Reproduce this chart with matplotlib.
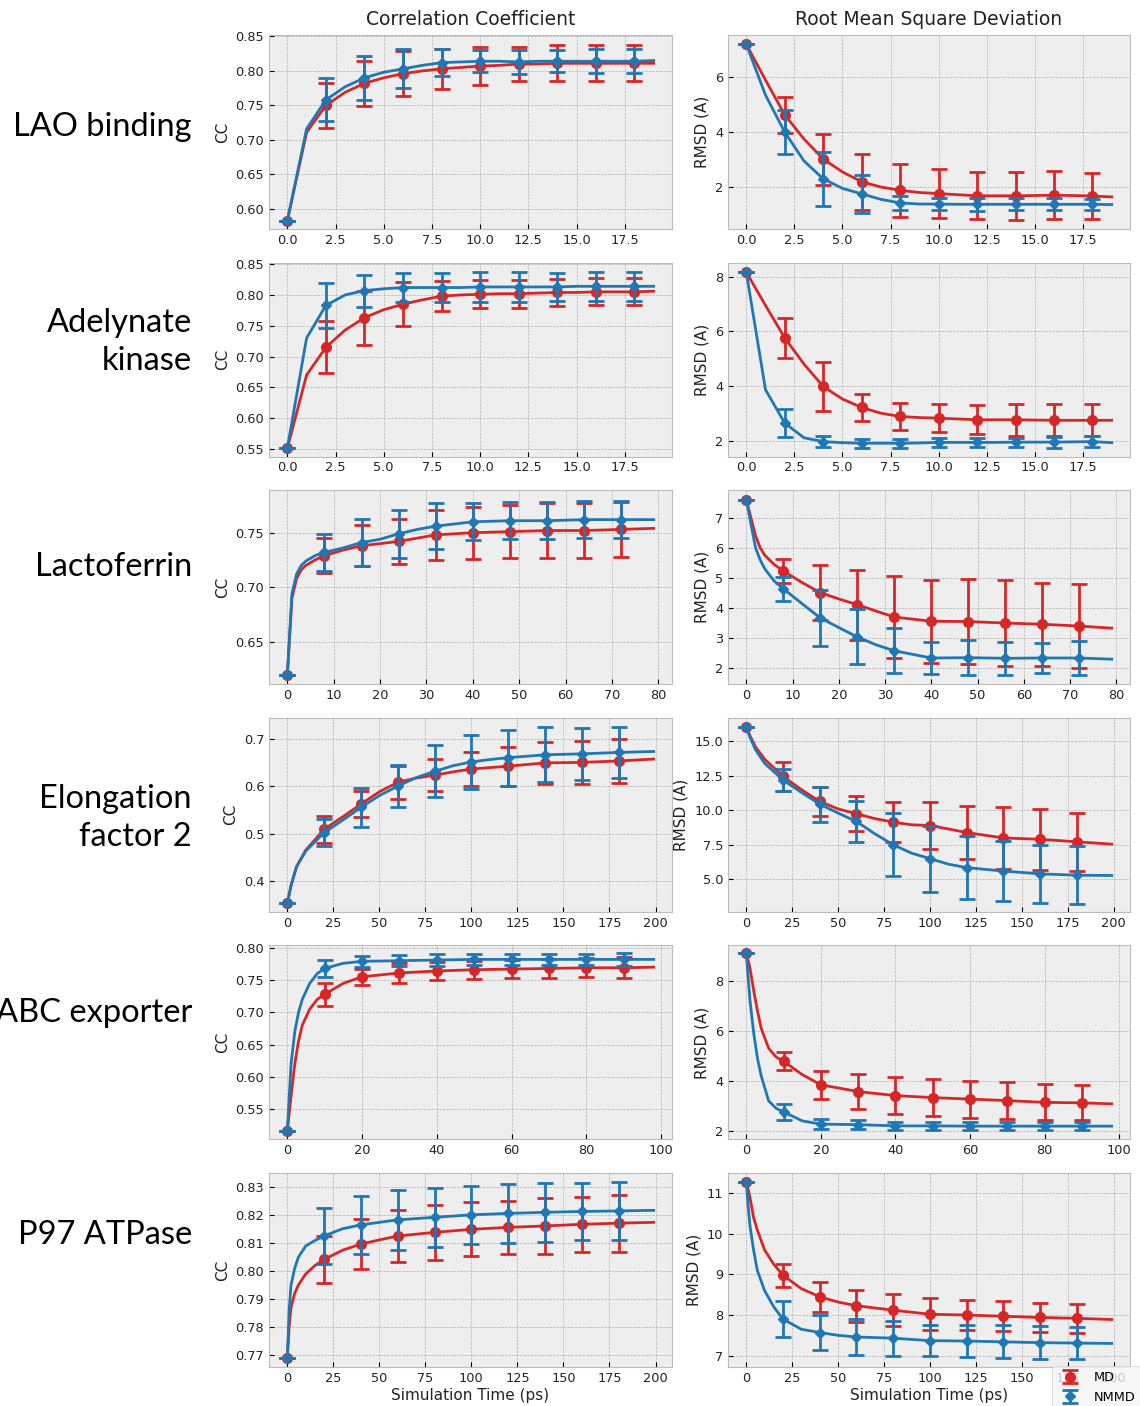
import matplotlib
matplotlib.use("Agg")
import matplotlib.pyplot as plt
from matplotlib.ticker import MultipleLocator

plt.style.use("bmh")

# ---------------- data ----------------
row_labels = ["LAO binding", "Adelynate\nkinase", "Lactoferrin",
              "Elongation\nfactor 2", "ABC exporter", "P97 ATPase"]
col_titles = ["Correlation Coefficient", "Root Mean Square Deviation"]
series_names = ["MD", "NMMD"]

# LAO binding
lao_t = [0, 1, 2, 3, 4, 5, 6, 7, 8, 9, 10, 11, 12, 13, 14, 15, 16, 17, 18, 19]
lao_tm = [0, 2, 4, 6, 8, 10, 12, 14, 16, 18]
lao_cc_md = [0.583, 0.711, 0.750, 0.769, 0.782, 0.790, 0.796, 0.800, 0.803, 0.805,
             0.807, 0.808, 0.810, 0.810, 0.811, 0.811, 0.811, 0.811, 0.811, 0.811]
lao_cc_nm = [0.583, 0.716, 0.758, 0.777, 0.790, 0.798, 0.803, 0.808, 0.812, 0.813,
             0.814, 0.814, 0.813, 0.814, 0.814, 0.814, 0.814, 0.814, 0.814, 0.815]
lao_cc_md_err = [0, 0.032, 0.033, 0.033, 0.029, 0.027, 0.025, 0.026, 0.026, 0.026]
lao_cc_nm_err = [0, 0.031, 0.032, 0.028, 0.019, 0.016, 0.017, 0.016, 0.017, 0.017]
lao_rmsd_md = [7.20, 5.90, 4.63, 3.75, 3.02, 2.55, 2.19, 2.00, 1.88, 1.80,
               1.76, 1.72, 1.68, 1.68, 1.68, 1.69, 1.70, 1.69, 1.67, 1.64]
lao_rmsd_nm = [7.20, 5.35, 4.00, 2.95, 2.30, 1.95, 1.75, 1.55, 1.42, 1.38,
               1.38, 1.37, 1.37, 1.37, 1.37, 1.37, 1.37, 1.37, 1.37, 1.36]
lao_rmsd_md_err = [0, 0.66, 0.93, 1.01, 0.97, 0.88, 0.85, 0.88, 0.88, 0.84]
lao_rmsd_nm_err = [0, 0.79, 0.98, 0.68, 0.25, 0.21, 0.23, 0.22, 0.22, 0.20]

# Adenylate kinase
ak_t = [0, 1, 2, 3, 4, 5, 6, 7, 8, 9, 10, 11, 12, 13, 14, 15, 16, 17, 18, 19]
ak_tm = [0, 2, 4, 6, 8, 10, 12, 14, 16, 18]
ak_cc_md = [0.551, 0.670, 0.715, 0.743, 0.763, 0.776, 0.785, 0.792, 0.798, 0.800,
            0.801, 0.802, 0.802, 0.803, 0.804, 0.804, 0.805, 0.805, 0.805, 0.806]
ak_cc_nm = [0.551, 0.730, 0.783, 0.800, 0.807, 0.810, 0.812, 0.812, 0.812, 0.812,
            0.813, 0.813, 0.813, 0.813, 0.813, 0.814, 0.814, 0.814, 0.814, 0.814]
ak_cc_md_err = [0, 0.042, 0.044, 0.036, 0.024, 0.023, 0.023, 0.022, 0.022, 0.022]
ak_cc_nm_err = [0, 0.037, 0.026, 0.024, 0.024, 0.024, 0.024, 0.023, 0.024, 0.024]
ak_rmsd_md = [8.17, 6.95, 5.76, 4.80, 3.98, 3.52, 3.21, 3.00, 2.88, 2.84,
              2.82, 2.79, 2.76, 2.76, 2.76, 2.75, 2.74, 2.74, 2.74, 2.74]
ak_rmsd_nm = [8.17, 3.86, 2.64, 2.10, 1.96, 1.92, 1.90, 1.90, 1.90, 1.91,
              1.93, 1.93, 1.93, 1.93, 1.94, 1.94, 1.94, 1.95, 1.96, 1.92]
ak_rmsd_md_err = [0, 0.74, 0.90, 0.49, 0.48, 0.50, 0.53, 0.58, 0.58, 0.58]
ak_rmsd_nm_err = [0, 0.50, 0.20, 0.17, 0.17, 0.18, 0.18, 0.17, 0.20, 0.20]

# Lactoferrin
lf_t = [0, 1, 2, 3, 4, 6, 8, 12, 16, 20, 24, 28, 32, 40, 48, 56, 64, 72, 79]
lf_tm = [0, 8, 16, 24, 32, 40, 48, 56, 64, 72]
lf_cc_md = [0.619, 0.690, 0.708, 0.716, 0.720, 0.725, 0.729, 0.734, 0.738, 0.740,
            0.742, 0.745, 0.748, 0.750, 0.751, 0.752, 0.752, 0.753, 0.754]
lf_cc_nm = [0.619, 0.694, 0.712, 0.720, 0.724, 0.729, 0.732, 0.736, 0.741, 0.744,
            0.749, 0.753, 0.756, 0.760, 0.761, 0.761, 0.762, 0.762, 0.762]
lf_cc_md_err = [0, 0.016, 0.019, 0.021, 0.023, 0.024, 0.024, 0.025, 0.025, 0.025]
lf_cc_nm_err = [0, 0.017, 0.022, 0.022, 0.021, 0.017, 0.017, 0.017, 0.017, 0.017]
lf_rmsd_md = [7.60, 7.00, 6.40, 6.00, 5.75, 5.45, 5.23, 4.85, 4.51, 4.30,
              4.11, 3.90, 3.70, 3.56, 3.55, 3.50, 3.46, 3.40, 3.33]
lf_rmsd_nm = [7.60, 6.80, 6.00, 5.60, 5.30, 4.90, 4.64, 4.15, 3.67, 3.35,
              3.04, 2.78, 2.58, 2.34, 2.35, 2.33, 2.34, 2.34, 2.30]
lf_rmsd_md_err = [0, 0.41, 0.91, 1.16, 1.36, 1.38, 1.41, 1.43, 1.38, 1.39]
lf_rmsd_nm_err = [0, 0.40, 0.93, 0.91, 0.74, 0.54, 0.58, 0.55, 0.51, 0.55]

# Elongation factor 2
ef_t = [0, 2, 5, 10, 20, 30, 40, 50, 60, 70, 80, 90, 100, 110, 120, 140, 160, 180, 199]
ef_tm = [0, 20, 40, 60, 80, 100, 120, 140, 160, 180]
ef_cc_md = [0.353, 0.390, 0.430, 0.465, 0.509, 0.535, 0.562, 0.588, 0.608, 0.617,
            0.623, 0.630, 0.636, 0.639, 0.642, 0.649, 0.650, 0.653, 0.657]
ef_cc_nm = [0.353, 0.390, 0.430, 0.463, 0.502, 0.528, 0.555, 0.580, 0.600, 0.618,
            0.631, 0.643, 0.651, 0.656, 0.660, 0.666, 0.668, 0.671, 0.673]
ef_cc_md_err = [0, 0.028, 0.028, 0.035, 0.034, 0.035, 0.041, 0.045, 0.045, 0.047]
ef_cc_nm_err = [0, 0.028, 0.042, 0.045, 0.055, 0.057, 0.059, 0.058, 0.055, 0.053]
ef_rmsd_md = [16.06, 15.40, 14.60, 13.70, 12.46, 11.50, 10.64, 10.10, 9.75, 9.40,
              9.14, 8.95, 8.90, 8.65, 8.39, 8.00, 7.90, 7.72, 7.55]
ef_rmsd_nm = [16.06, 15.30, 14.40, 13.40, 12.20, 11.30, 10.45, 9.80, 9.19, 8.30,
              7.50, 6.90, 6.50, 6.10, 5.85, 5.60, 5.40, 5.30, 5.28]
ef_rmsd_md_err = [0, 1.07, 1.03, 1.27, 1.45, 1.67, 1.91, 2.24, 2.20, 2.10]
ef_rmsd_nm_err = [0, 0.80, 1.27, 1.49, 2.28, 2.40, 2.30, 2.18, 2.10, 2.10]

# ABC exporter
abc_t = [0, 1, 2, 3, 4, 6, 8, 10, 15, 20, 30, 40, 50, 60, 70, 80, 90, 98]
abc_tm = [0, 10, 20, 30, 40, 50, 60, 70, 80, 90]
abc_cc_md = [0.516, 0.570, 0.620, 0.655, 0.680, 0.705, 0.720, 0.728, 0.745, 0.755,
             0.761, 0.764, 0.766, 0.767, 0.768, 0.769, 0.769, 0.770]
abc_cc_nm = [0.516, 0.620, 0.670, 0.700, 0.720, 0.745, 0.760, 0.768, 0.776, 0.779,
             0.780, 0.781, 0.782, 0.782, 0.782, 0.782, 0.782, 0.782]
abc_cc_md_err = [0, 0.018, 0.012, 0.015, 0.014, 0.014, 0.014, 0.015, 0.015, 0.016]
abc_cc_nm_err = [0, 0.013, 0.009, 0.009, 0.009, 0.009, 0.009, 0.009, 0.009, 0.010]
abc_rmsd_md = [9.10, 8.50, 7.60, 6.80, 6.10, 5.30, 4.95, 4.78, 4.25, 3.84,
               3.57, 3.41, 3.33, 3.27, 3.21, 3.14, 3.12, 3.08]
abc_rmsd_nm = [9.10, 7.20, 5.90, 4.90, 4.20, 3.20, 2.90, 2.76, 2.40, 2.27,
               2.25, 2.20, 2.20, 2.19, 2.19, 2.19, 2.19, 2.19]
abc_rmsd_md_err = [0, 0.36, 0.57, 0.70, 0.74, 0.75, 0.74, 0.74, 0.72, 0.70]
abc_rmsd_nm_err = [0, 0.32, 0.19, 0.17, 0.16, 0.15, 0.16, 0.15, 0.16, 0.16]

# P97 ATPase
p97_t = [0, 1, 2, 4, 6, 10, 15, 20, 30, 40, 50, 60, 80, 100, 120, 140, 160, 180, 199]
p97_tm = [0, 20, 40, 60, 80, 100, 120, 140, 160, 180]
p97_cc_md = [0.7688, 0.780, 0.787, 0.792, 0.795, 0.799, 0.802, 0.8042, 0.8075, 0.8097,
             0.8112, 0.8126, 0.8139, 0.8150, 0.8157, 0.8162, 0.8168, 0.8172, 0.8175]
p97_cc_nm = [0.7688, 0.786, 0.795, 0.801, 0.805, 0.809, 0.811, 0.8126, 0.8152, 0.8166,
             0.8175, 0.8184, 0.8193, 0.8202, 0.8207, 0.8211, 0.8214, 0.8216, 0.8218]
p97_cc_md_err = [0, 0.0083, 0.0090, 0.0093, 0.0099, 0.0097, 0.0096, 0.0099, 0.0099, 0.0102]
p97_cc_nm_err = [0, 0.0102, 0.0105, 0.0107, 0.0106, 0.0104, 0.0106, 0.0106, 0.0103, 0.0105]
p97_rmsd_md = [11.28, 11.10, 10.90, 10.40, 10.10, 9.60, 9.25, 8.98, 8.65, 8.45,
               8.32, 8.23, 8.12, 8.02, 8.00, 7.97, 7.94, 7.92, 7.89]
p97_rmsd_nm = [11.28, 10.70, 10.20, 9.60, 9.10, 8.60, 8.20, 7.90, 7.65, 7.57,
               7.50, 7.46, 7.43, 7.37, 7.36, 7.34, 7.32, 7.31, 7.30]
p97_rmsd_md_err = [0, 0.28, 0.37, 0.39, 0.40, 0.39, 0.38, 0.37, 0.36, 0.36]
p97_rmsd_nm_err = [0, 0.44, 0.44, 0.45, 0.43, 0.39, 0.40, 0.41, 0.40, 0.40]

# ---------------- panel definitions ----------------
panels = [
    (lao_t, lao_tm, (lao_cc_md, lao_cc_md_err, lao_cc_nm, lao_cc_nm_err),
     (lao_rmsd_md, lao_rmsd_md_err, lao_rmsd_nm, lao_rmsd_nm_err)),
    (ak_t, ak_tm, (ak_cc_md, ak_cc_md_err, ak_cc_nm, ak_cc_nm_err),
     (ak_rmsd_md, ak_rmsd_md_err, ak_rmsd_nm, ak_rmsd_nm_err)),
    (lf_t, lf_tm, (lf_cc_md, lf_cc_md_err, lf_cc_nm, lf_cc_nm_err),
     (lf_rmsd_md, lf_rmsd_md_err, lf_rmsd_nm, lf_rmsd_nm_err)),
    (ef_t, ef_tm, (ef_cc_md, ef_cc_md_err, ef_cc_nm, ef_cc_nm_err),
     (ef_rmsd_md, ef_rmsd_md_err, ef_rmsd_nm, ef_rmsd_nm_err)),
    (abc_t, abc_tm, (abc_cc_md, abc_cc_md_err, abc_cc_nm, abc_cc_nm_err),
     (abc_rmsd_md, abc_rmsd_md_err, abc_rmsd_nm, abc_rmsd_nm_err)),
    (p97_t, p97_tm, (p97_cc_md, p97_cc_md_err, p97_cc_nm, p97_cc_nm_err),
     (p97_rmsd_md, p97_rmsd_md_err, p97_rmsd_nm, p97_rmsd_nm_err)),
]

# layout / style (pixels)
W, H = 1140, 1406
row_tops = [35, 262.6, 490.2, 717.8, 945.4, 1173]
row_h = 194
col_x = [(269, 672), (728, 1130)]
ylims = [((0.571, 0.852), (0.47, 7.54)),
         ((0.5375, 0.8525), (1.41, 8.52)),
         ((0.611, 0.789), (1.47, 7.91)),
         ((0.335, 0.744), (2.65, 16.7)),
         ((0.503, 0.8037), (1.66, 9.41)),
         ((0.7656, 0.8352), (6.72, 11.5))]
ysteps = [(0.05, 2), (0.05, 2), (0.05, 1), (0.1, 2.5), (0.05, 2), (0.01, 1)]
xsteps = [2.5, 2.5, 10, 25, 20, 25]
label_y = [127, 342, 567, 818, 1013, 1235]

RED = "#d62728"
BLUE = "#1f77b4"

fig = plt.figure(figsize=(W / 100, H / 100), dpi=100)
fig.patch.set_facecolor("white")

handles = None
for r, (t, tm, cc, rm) in enumerate(panels):
    for c, (md, md_err, nm, nm_err) in enumerate((cc, rm)):
        x0, x1 = col_x[c]
        top = row_tops[r]
        ax = fig.add_axes([x0 / W, 1 - (top + row_h) / H, (x1 - x0) / W, row_h / H])
        lookup_md = dict(zip(t, md))
        lookup_nm = dict(zip(t, nm))
        md_m = [lookup_md[v] for v in tm]
        nm_m = [lookup_nm[v] for v in tm]
        ax.plot(t, md, color=RED, lw=2, zorder=3)
        e1 = ax.errorbar(tm, md_m, yerr=md_err, fmt="o", color=RED, ms=7,
                         elinewidth=2, capsize=6, capthick=2, zorder=4)
        ax.plot(t, nm, color=BLUE, lw=2, zorder=5)
        e2 = ax.errorbar(tm, nm_m, yerr=nm_err, fmt="D", color=BLUE, ms=5,
                         elinewidth=2, capsize=6, capthick=2, zorder=6)
        handles = (e1, e2)
        ax.set_ylim(*ylims[r][c])
        ax.yaxis.set_major_locator(MultipleLocator(ysteps[r][c]))
        ax.xaxis.set_major_locator(MultipleLocator(xsteps[r]))
        ax.tick_params(labelsize=9.3, labelcolor="#222222")
        ax.set_ylabel("CC" if c == 0 else "RMSD (A)", fontsize=11, color="#222222")
        if r == 0:
            ax.set_title(col_titles[c], fontsize=13.5, pad=7, color="#222222")
        if r == len(panels) - 1:
            ax.set_xlabel("Simulation Time (ps)", fontsize=11, labelpad=2,
                          color="#222222")

    fig.text(192 / W, 1 - label_y[r] / H, row_labels[r], ha="right", va="center",
             multialignment="right", fontsize=23.5, family=["Lato", "DejaVu Sans"],
             linespacing=1.35)

leg = fig.legend(handles, series_names, loc="upper left",
                 bbox_to_anchor=(1052 / W, 1 - 1366 / H), fontsize=9.3,
                 frameon=True, borderaxespad=0, handletextpad=0.8)
leg.get_frame().set_facecolor("#f4f4f4")
leg.get_frame().set_edgecolor("#cccccc")

fig.savefig("out.png", dpi=100, facecolor="white")
